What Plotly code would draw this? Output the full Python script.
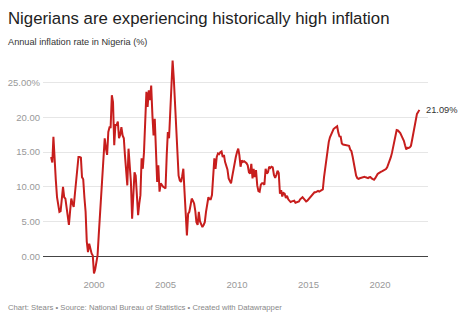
import pandas as pd
import plotly.graph_objects as go

# Monthly annual inflation rate in Nigeria (%), Jan 1997 - Oct 2022
inflation_rate = [
    # 1997
    14.3, 13.5, 17.2, 13.1, 11.0, 8.5, 7.2, 6.4, 6.5, 8.5, 10.0, 8.5,
    # 1998
    8.3, 7.0, 5.9, 4.5, 6.5, 8.3, 7.6, 7.1, 9.0, 10.9, 12.8, 14.3,
    # 1999
    14.3, 14.2, 11.4, 11.1, 8.5, 6.4, 2.1, 0.6, 1.8, 1.0, 0.4, 0.1,
    # 2000
    -2.5, -1.9, -1.0, 0.1, 3.0, 5.9, 6.9, 10.0, 13.1, 17.0, 15.5, 14.6,
    # 2001
    17.9, 18.6, 18.6, 23.2, 22.2, 16.0, 18.9, 18.9, 19.4, 17.0, 17.5, 18.6,
    # 2002
    17.4, 17.0, 14.6, 12.1, 10.2, 15.5, 12.5, 10.7, 5.4, 8.5, 12.1, 11.6,
    # 2003
    9.0, 5.9, 7.5, 8.8, 14.1, 12.6, 15.0, 18.4, 23.7, 21.5, 23.9, 22.5,
    # 2004
    24.6, 20.3, 17.4, 19.8, 13.6, 10.7, 13.1, 9.3, 10.5, 10.2, 10.0, 9.9,
    # 2005
    9.75, 14.6, 17.9, 17.0, 20.5, 23.7, 28.2, 25.5, 22.0, 17.0, 13.5, 11.6,
    # 2006
    10.9, 10.7, 11.5, 12.6, 9.3, 6.0, 3.0, 6.1, 6.4, 7.3, 8.3, 8.0,
    # 2007
    7.6, 6.5, 4.9, 4.5, 6.4, 5.0, 4.5, 4.2, 4.5, 4.9, 6.4, 7.5,
    # 2008
    8.5, 8.2, 8.2, 8.8, 11.2, 14.1, 12.6, 14.3, 14.8, 14.7, 15.0, 15.1,
    # 2009
    14.3, 14.6, 13.6, 12.9, 12.5, 11.2, 10.9, 10.5, 11.5, 12.6, 13.5, 14.3,
    # 2010
    15.0, 15.5, 14.6, 12.9, 13.8, 13.6, 13.7, 13.6, 13.4, 13.1, 12.1, 11.9,
    # 2011
    13.3, 11.2, 12.6, 11.4, 12.4, 10.2, 9.4, 9.3, 10.3, 10.5, 10.5, 10.3,
    # 2012
    12.6, 11.9, 12.1, 12.9, 12.7, 12.9, 12.8, 11.7, 11.3, 11.7, 12.3, 12.0,
    # 2013
    9.0, 9.5, 8.6, 9.1, 9.0, 8.4, 8.7, 8.2, 8.0, 7.8, 7.9, 8.0,
    # 2014
    8.0, 7.7, 7.8, 7.9, 7.9, 8.2, 8.3, 8.5, 8.3, 8.1, 7.9, 8.0,
    # 2015
    8.2, 8.4, 8.5, 8.7, 9.0, 9.2, 9.2, 9.3, 9.4, 9.3, 9.4, 9.55,
    # 2016
    9.62, 11.38, 12.77, 13.72, 15.58, 16.48, 17.13, 17.61, 17.85, 18.33, 18.48, 18.55,
    # 2017
    18.72, 17.78, 17.26, 17.24, 16.25, 16.10, 16.05, 16.01, 15.98, 15.91, 15.90, 15.37,
    # 2018
    15.13, 14.33, 13.34, 12.48, 11.61, 11.23, 11.14, 11.23, 11.28, 11.26, 11.28, 11.44,
    # 2019
    11.37, 11.31, 11.25, 11.37, 11.40, 11.22, 11.08, 11.02, 11.24, 11.61, 11.85, 11.98,
    # 2020
    12.13, 12.20, 12.26, 12.34, 12.40, 12.56, 12.82, 13.22, 13.71, 14.23, 14.89, 15.75,
    # 2021
    16.47, 17.33, 18.17, 18.12, 17.93, 17.75, 17.38, 17.01, 16.63, 15.99, 15.40, 15.63,
    # 2022
    15.60, 15.70, 15.92, 16.82, 17.71, 18.60, 19.64, 20.52, 20.77, 21.09,
]
start_month = "1997-01-01"
dates = pd.date_range(start_month, periods=len(inflation_rate), freq="MS")

y_tick_values = [0, 5, 10, 15, 20, 25]
y_tick_labels = ["0.00", "5.00", "10.00", "15.00", "20.00", "25.00%"]
x_tick_values = ["2000-01-01", "2005-01-01", "2010-01-01", "2015-01-01", "2020-01-01"]
x_tick_labels = ["2000", "2005", "2010", "2015", "2020"]

title_text = "Nigerians are experiencing historically high inflation"
subtitle_text = "Annual inflation rate in Nigeria (%)"
footer_text = "Chart: Stears • Source: National Bureau of Statistics • Created with Datawrapper"
end_label = f"{inflation_rate[-1]:.2f}%"

FONT = "Liberation Sans, Arial, Helvetica, sans-serif"
W, H = 474, 321
L, R, T, B = 43, 46, 55, 44

fig = go.Figure()
fig.add_trace(go.Scatter(
    x=dates, y=inflation_rate, mode="lines",
    line=dict(color="#c71e1d", width=2),
    hoverinfo="skip", showlegend=False,
))

fig.add_annotation(
    x=dates[-1], y=inflation_rate[-1], xref="x", yref="y",
    text=end_label, showarrow=False, xanchor="left", yanchor="middle",
    xshift=5, font=dict(family=FONT, size=9.3, color="#333333"),
)

plot_w = W - L - R
plot_h = H - T - B
def px_x(px):
    return (px - L) / plot_w
def px_y(py):
    return (H - B - py) / plot_h

fig.add_annotation(
    x=px_x(6), y=px_y(7), xref="paper", yref="paper",
    text=title_text, showarrow=False, xanchor="left", yanchor="top",
    font=dict(family=FONT, size=16.8, color="#222222"),
)
fig.add_annotation(
    x=px_x(6), y=px_y(35), xref="paper", yref="paper",
    text=subtitle_text, showarrow=False, xanchor="left", yanchor="top",
    font=dict(family=FONT, size=9.2, color="#333333"),
)
fig.add_annotation(
    x=px_x(6), y=px_y(301), xref="paper", yref="paper",
    text=footer_text, showarrow=False, xanchor="left", yanchor="top",
    font=dict(family=FONT, size=7.7, color="#888888"),
)

fig.update_layout(
    width=W, height=H,
    margin=dict(l=L, r=R, t=T, b=B, pad=0),
    paper_bgcolor="white", plot_bgcolor="white",
    font=dict(family=FONT, size=9.3, color="#999999"),
    xaxis=dict(
        type="date", automargin=False,
        range=["1996-06-08", "2023-05-10"],
        tickvals=x_tick_values, ticktext=x_tick_labels,
        showgrid=False, zeroline=False, showline=False, ticks="",
        tickfont=dict(family=FONT, size=9.5, color="#999999"),
        fixedrange=True,
    ),
    yaxis=dict(
        range=[-3, 29], automargin=False,
        tickvals=y_tick_values, ticktext=y_tick_labels,
        showgrid=True, gridcolor="#e6e6e6", gridwidth=1,
        zeroline=True, zerolinecolor="#444444", zerolinewidth=1,
        showline=False, ticks="",
        ticklabelstandoff=2,
        tickfont=dict(family=FONT, size=9.5, color="#999999"),
        fixedrange=True,
    ),
)

fig.write_html("out.html")
